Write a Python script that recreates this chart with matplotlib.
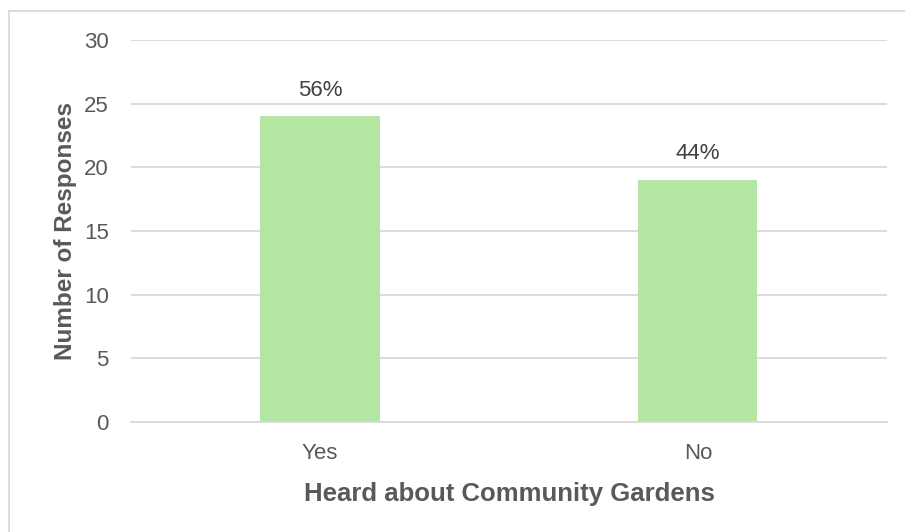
import matplotlib
matplotlib.use("Agg")
import matplotlib.pyplot as plt
from matplotlib.lines import Line2D

categories = ["Yes", "No"]
responses = [24, 19]
percent_labels = ["56%", "44%"]
y_ticks = [0, 5, 10, 15, 20, 25, 30]

plt.rcParams["font.family"] = ["Liberation Sans", "DejaVu Sans"]
text_color = "#595959"
grid_color = "#D9D9D9"
bar_color = "#B4E5A2"

fig = plt.figure(figsize=(9.05, 5.32), dpi=100)
ax = fig.add_axes([0.1448, 0.2068, 0.980 - 0.1448, 0.9248 - 0.2068])

x = list(range(len(categories)))
bars = ax.bar(x, responses, width=0.315, color=bar_color, zorder=2)

ax.set_xlim(-0.5, len(categories) - 0.5)
ax.set_ylim(0, 30)
ax.set_yticks(y_ticks)
ax.set_xticks(x)
ax.set_xticklabels(categories)
ax.yaxis.grid(True, color=grid_color, linewidth=1.3, zorder=0)
ax.set_axisbelow(True)
for side in ["top", "right", "left"]:
    ax.spines[side].set_visible(False)
ax.spines["bottom"].set_color(grid_color)
ax.spines["bottom"].set_linewidth(1.3)
ax.tick_params(axis="both", length=0, labelsize=16, colors=text_color)
ax.tick_params(axis="y", pad=16)
ax.tick_params(axis="x", pad=15)

for rect, lab in zip(bars, percent_labels):
    ax.annotate(lab, (rect.get_x() + rect.get_width() / 2, rect.get_height()),
                xytext=(0, 19), textcoords="offset points", ha="center",
                va="center", fontsize=16, color="#404040")

ax.set_xlabel("Heard about Community Gardens", fontsize=18.5, fontweight="bold",
              color=text_color, labelpad=13)
ax.set_ylabel("Number of Responses", fontsize=17.5, fontweight="bold",
              color=text_color, labelpad=5)

# outer chart frame (left and top edges)
fig.add_artist(Line2D([9 / 905, 9 / 905], [0, 1 - 11 / 532], transform=fig.transFigure,
                      color=grid_color, linewidth=1.3))
fig.add_artist(Line2D([9 / 905, 1], [1 - 11 / 532, 1 - 11 / 532], transform=fig.transFigure,
                      color=grid_color, linewidth=1.3))

fig.savefig("out.png", dpi=100)
